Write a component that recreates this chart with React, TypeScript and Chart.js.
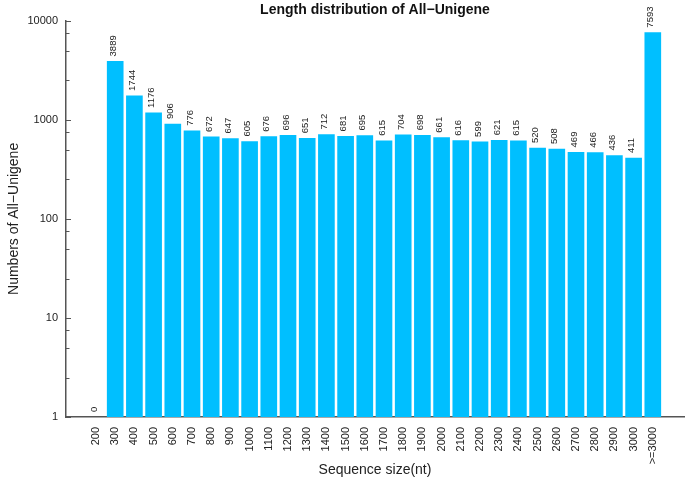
import React, { useEffect, useRef } from 'react';
import { Chart, registerables } from 'chart.js';

Chart.register(...registerables);

const categories = [
  '200', '300', '400', '500', '600', '700', '800', '900', '1000', '1100',
  '1200', '1300', '1400', '1500', '1600', '1700', '1800', '1900', '2000', '2100',
  '2200', '2300', '2400', '2500', '2600', '2700', '2800', '2900', '3000', '>=3000',
];
const counts = [
  0, 3889, 1744, 1176, 906, 776, 672, 647, 605, 676,
  696, 651, 712, 681, 695, 615, 704, 698, 661, 616,
  599, 621, 615, 520, 508, 469, 466, 436, 411, 7593,
];
const yMajorTicks = [1, 10, 100, 1000, 10000];
const yMinorFactors = [2.5, 5, 7.5];

const FONT = '"Liberation Sans", Arial, Helvetica, sans-serif';

const axisTicksPlugin = {
  id: 'inwardTicks',
  afterDraw(chart: any) {
    const y = chart.scales.y;
    const ctx = chart.ctx;
    const x0 = chart.chartArea.left;
    ctx.save();
    ctx.strokeStyle = '#555';
    ctx.lineWidth = 1;
    const drawTick = (v: number, len: number) => {
      const py = Math.round(y.getPixelForValue(v)) + 0.5;
      ctx.beginPath();
      ctx.moveTo(x0, py);
      ctx.lineTo(x0 + len, py);
      ctx.stroke();
    };
    yMajorTicks.forEach((v) => drawTick(v, 5));
    for (let d = 1; d < 10000; d *= 10) {
      yMinorFactors.forEach((f) => drawTick(d * f, 3.5));
    }
    ctx.restore();
  },
};

const valueLabelPlugin = {
  id: 'valueLabels',
  afterDatasetsDraw(chart: any) {
    const xs = chart.scales.x;
    const ys = chart.scales.y;
    const ctx = chart.ctx;
    ctx.save();
    ctx.font = `9.5px ${FONT}`;
    ctx.fillStyle = '#222';
    ctx.textAlign = 'left';
    ctx.textBaseline = 'middle';
    counts.forEach((v, i) => {
      const px = xs.getPixelForValue(i);
      const py = v > 0 ? ys.getPixelForValue(v) : chart.chartArea.bottom;
      ctx.save();
      ctx.translate(px - 2, py - 5);
      ctx.rotate(-Math.PI / 2);
      ctx.fillText(String(v), 0, 0);
      ctx.restore();
    });
    ctx.restore();
  },
};

export default function App() {
  const ref = useRef<HTMLCanvasElement | null>(null);

  useEffect(() => {
    if (!ref.current) return;
    const chart = new Chart(ref.current, {
      type: 'bar',
      data: {
        datasets: [
          {
            data: counts.map((v, i) => ({ x: i, y: v > 0 ? v : null })) as any,
            backgroundColor: '#00BFFF',
            borderWidth: 0,
            barThickness: 16,
          },
        ],
      },
      options: {
        responsive: false,
        animation: false,
        layout: { padding: { left: 0, right: 1, top: 0, bottom: 0 } },
        plugins: {
          legend: { display: false },
          tooltip: { enabled: false },
          title: {
            display: true,
            text: 'Length distribution of All\u2212Unigene',
            fullSize: false,
            color: '#111',
            font: { family: FONT, size: 14, weight: 'bold' },
            padding: { top: 2, bottom: 2 },
          },
        },
        scales: {
          x: {
            type: 'linear',
            min: -1.5625,
            max: 30.625,
            offset: false,
            grid: { display: false, drawTicks: false, offset: false },
            border: { display: true, color: '#555', width: 1.5 },
            afterBuildTicks: (scale: any) => {
              scale.ticks = categories.map((_, i) => ({ value: i }));
            },
            afterFit: (scale: any) => {
              scale.height = 68;
            },
            ticks: {
              autoSkip: false,
              maxRotation: 90,
              minRotation: 90,
              padding: 10,
              color: '#222',
              font: { family: FONT, size: 11 },
              callback: (value: any) => {
                const i = Math.round(Number(value));
                return i >= 0 && i < categories.length && i === Number(value) ? categories[i] : '';
              },
            },
            title: {
              display: true,
              text: 'Sequence size(nt)',
              color: '#222',
              font: { family: FONT, size: 14 },
              padding: { top: 0, bottom: 6 },
            },
          },
          y: {
            type: 'logarithmic',
            min: 1,
            max: 10000,
            grid: { display: false, drawTicks: false },
            border: { display: true, color: '#555', width: 1.5 },
            afterBuildTicks: (scale: any) => {
              scale.ticks = yMajorTicks.map((v) => ({ value: v }));
            },
            afterFit: (scale: any) => {
              scale.width = 66;
            },
            ticks: {
              padding: 8,
              color: '#222',
              font: { family: FONT, size: 11 },
              callback: (value: any) => String(value),
            },
            title: {
              display: true,
              text: 'Numbers of All\u2212Unigene',
              color: '#222',
              font: { family: FONT, size: 14 },
              padding: { top: 6, bottom: 0 },
            },
          },
        },
      } as any,
      plugins: [axisTicksPlugin, valueLabelPlugin],
    });
    return () => chart.destroy();
  }, []);

  return (
    <div style={{ position: 'fixed', left: 0, top: 0, width: 685, height: 485, background: '#fff' }}>
      <canvas ref={ref} width={685} height={485} style={{ display: 'block' }} />
    </div>
  );
}
